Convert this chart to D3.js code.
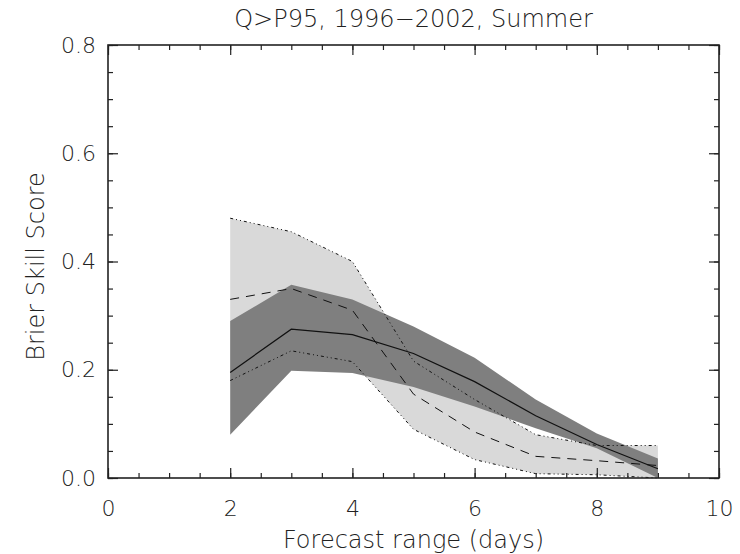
<!DOCTYPE html>
<html>
<head>
<meta charset="utf-8">
<script src="https://cdn.jsdelivr.net/npm/d3@7"></script>
<style>
  body { margin: 0; background: #fff; }
  text { font-family: "DejaVu Sans", "Liberation Sans", sans-serif; font-weight: 200; fill: #222; }
</style>
</head>
<body>
<div class="box"></div>
<script>
// DATA
const days = [2, 3, 4, 5, 6, 7, 8, 9];
// light band: envelope (dotted lines)
const lightUpper = [0.480, 0.455, 0.400, 0.216, 0.145, 0.080, 0.060, 0.060];
const lightLower = [0.180, 0.235, 0.215, 0.090, 0.034, 0.008, 0.006, 0.000];
const dashedLine = [0.330, 0.350, 0.310, 0.155, 0.085, 0.040, 0.032, 0.023];
// dark band + solid line
const darkUpper = [0.290, 0.357, 0.330, 0.280, 0.222, 0.145, 0.082, 0.036];
const darkLower = [0.080, 0.198, 0.194, 0.168, 0.132, 0.092, 0.055, 0.000];
const solidLine = [0.195, 0.275, 0.265, 0.230, 0.178, 0.115, 0.062, 0.017];

const xMajor = [0, 2, 4, 6, 8, 10];
const yMajor = [0, 0.2, 0.4, 0.6, 0.8];

// SETUP
const W = 740, H = 554;
const margin = {top: 45, right: 21, bottom: 76, left: 108};
const graphWidth = W - margin.left - margin.right;
const graphHeight = H - margin.top - margin.bottom;

const svg = d3.select('.box')
              .append('svg')
              .attr('width', W)
              .attr('height', H);

const graph = svg.append('g')
                 .attr('transform', `translate(${margin.left}, ${margin.top})`);

const x = d3.scaleLinear().domain([0, 10]).range([0, graphWidth]);
const y = d3.scaleLinear().domain([0, 0.8]).range([graphHeight, 0]);

const rows = days.map((d, i) => ({
  d: d, lu: lightUpper[i], ll: lightLower[i], da: dashedLine[i],
  du: darkUpper[i], dl: darkLower[i], so: solidLine[i]
}));

// bands
const area = (lo, hi) => d3.area().x(r => x(r.d)).y0(r => y(r[lo])).y1(r => y(r[hi]));
graph.append('path').datum(rows)
     .attr('d', area('ll', 'lu')).attr('fill', '#d9d9d9');
graph.append('path').datum(rows)
     .attr('d', area('dl', 'du')).attr('fill', '#7f7f7f');

// lines
const line = key => d3.line().x(r => x(r.d)).y(r => y(r[key]));
const dotted = '3,3,1,3,1,3';
graph.append('path').datum(rows).attr('d', line('lu'))
     .attr('fill', 'none').attr('stroke', '#111').attr('stroke-width', 1).attr('stroke-dasharray', dotted);
graph.append('path').datum(rows).attr('d', line('ll'))
     .attr('fill', 'none').attr('stroke', '#111').attr('stroke-width', 1).attr('stroke-dasharray', dotted);
graph.append('path').datum(rows).attr('d', line('da'))
     .attr('fill', 'none').attr('stroke', '#111').attr('stroke-width', 1).attr('stroke-dasharray', '9,7');
graph.append('path').datum(rows).attr('d', line('so'))
     .attr('fill', 'none').attr('stroke', '#111').attr('stroke-width', 1.2);

// AXES (IDL style: ticks inward on all four sides)
const xMinor = d3.range(0, 10.01, 0.5);
const yMinor = d3.range(0, 0.801, 0.05);

const styleAxis = g => {
  g.select('.domain').remove();
  g.selectAll('line').attr('stroke', '#222').attr('stroke-width', 1.2);
};

graph.append('g').attr('transform', `translate(0, ${graphHeight})`)
     .call(d3.axisBottom(x).tickValues(xMinor).tickSize(-5).tickFormat('')).call(styleAxis);
graph.append('g').attr('transform', `translate(0, ${graphHeight})`)
     .call(d3.axisBottom(x).tickValues(xMajor).tickSize(-10).tickPadding(22).tickFormat(d3.format('d')))
     .call(styleAxis)
     .selectAll('text').style('font-size', '22px').style('font-family', null);
graph.append('g')
     .call(d3.axisTop(x).tickValues(xMinor).tickSize(-5).tickFormat('')).call(styleAxis);
graph.append('g')
     .call(d3.axisTop(x).tickValues(xMajor).tickSize(-10).tickFormat('')).call(styleAxis);

graph.append('g')
     .call(d3.axisLeft(y).tickValues(yMinor).tickSize(-5).tickFormat('')).call(styleAxis);
graph.append('g')
     .call(d3.axisLeft(y).tickValues(yMajor).tickSize(-10).tickPadding(12).tickFormat(d3.format('.1f')))
     .call(styleAxis)
     .selectAll('text').style('font-size', '22px').style('font-family', null);
graph.append('g').attr('transform', `translate(${graphWidth}, 0)`)
     .call(d3.axisRight(y).tickValues(yMinor).tickSize(-5).tickFormat('')).call(styleAxis);
graph.append('g').attr('transform', `translate(${graphWidth}, 0)`)
     .call(d3.axisRight(y).tickValues(yMajor).tickSize(-10).tickFormat('')).call(styleAxis);

// frame
graph.append('rect')
     .attr('width', graphWidth).attr('height', graphHeight)
     .attr('fill', 'none').attr('stroke', '#222').attr('stroke-width', 1.6);

// titles
svg.append('text')
   .text('Q>P95, 1996\u22122002, Summer')
   .attr('x', margin.left + graphWidth / 2).attr('y', 27)
   .style('text-anchor', 'middle').style('font-size', '24px');

svg.append('text')
   .text('Forecast range (days)')
   .attr('x', margin.left + graphWidth / 2).attr('y', 548)
   .style('text-anchor', 'middle').style('font-size', '24px');

svg.append('text')
   .text('Brier Skill Score')
   .attr('transform', `translate(44, ${margin.top + graphHeight / 2 + 5}) rotate(-90)`)
   .style('text-anchor', 'middle').style('font-size', '24px');
</script>
</body>
</html>
